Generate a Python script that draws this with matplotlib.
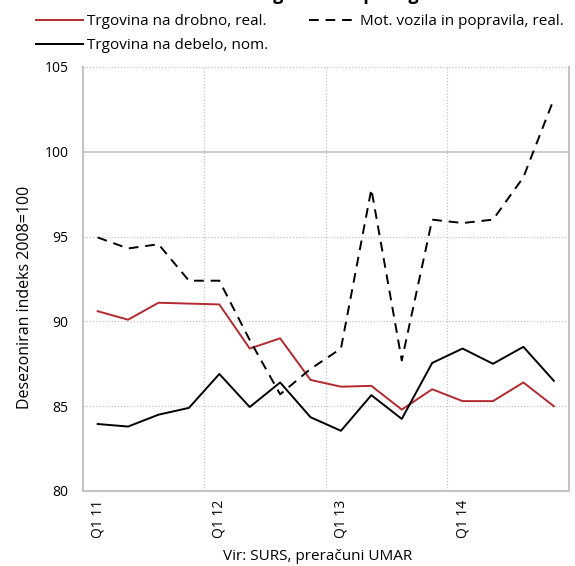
"""
Trgovina - desezonirani indeksi prihodka, 2011-2014
"""

import matplotlib.pyplot as plt

plt.rcParams['font.family'] = ['Open Sans', 'DejaVu Sans']

quarters = ["Q1 11", "Q2 11", "Q3 11", "Q4 11",
            "Q1 12", "Q2 12", "Q3 12", "Q4 12",
            "Q1 13", "Q2 13", "Q3 13", "Q4 13",
            "Q1 14", "Q2 14", "Q3 14", "Q4 14"]
drobno = [90.6, 90.1, 91.1, 91.05, 91.0, 88.4, 89.0, 86.55,
          86.15, 86.2, 84.8, 86.0, 85.3, 85.3, 86.4, 85.0]
debelo = [83.95, 83.8, 84.5, 84.9, 86.9, 84.95, 86.4, 84.35,
          83.55, 85.65, 84.25, 87.55, 88.4, 87.5, 88.5, 86.5]
vozila = [94.95, 94.3, 94.55, 92.4, 92.4, 88.9, 85.7, 87.2,
          88.4, 97.8, 87.7, 96.0, 95.8, 96.0, 98.5, 103.1]

red = '#b22a2e'
grey = '#c4c4c4'
W, H = 575, 566

fig = plt.figure(figsize=(W / 100, H / 100), dpi=100)
ax = fig.add_axes([82.5 / W, 1 - 491 / H, 486.5 / W, 424 / H])

x = list(range(len(quarters)))
l1, = ax.plot(x, drobno, color=red, lw=1.4, label="Trgovina na drobno, real.")
l2, = ax.plot(x, debelo, color='black', lw=1.4, label="Trgovina na debelo, nom.")
l3, = ax.plot(x, vozila, color='black', lw=1.4, ls=(0, (5, 3.5)),
              label="Mot. vozila in popravila, real.")

ax.set_xlim(-0.5, len(quarters) - 0.5)
ax.set_ylim(80, 105)
ax.set_yticks([80, 85, 90, 95, 100, 105])

# mreza
for v in [85, 90, 95, 105]:
    ax.axhline(v, color=grey, lw=0.9, ls=(0, (1, 1.5)), zorder=0)
ax.axhline(100, color=grey, lw=1.2, zorder=0)
for xv in [3.5, 7.5, 11.5]:
    ax.axvline(xv, color=grey, lw=0.9, ls=(0, (1, 1.5)), zorder=0)

q1 = [i for i, q in enumerate(quarters) if q.startswith("Q1")]
ax.set_xticks(q1)
ax.set_xticklabels([quarters[i] for i in q1], rotation=90, va='top', ha='center')

ax.tick_params(length=0, labelsize=10)
ax.tick_params(axis='x', pad=6)
ax.tick_params(axis='y', pad=10)

ax.spines['top'].set_visible(False)
for s in ['left', 'right', 'bottom']:
    ax.spines[s].set_color(grey)
    ax.spines[s].set_linewidth(1.5)

fig.text(25 / W, 1 - 297 / H, "Desezoniran indeks 2008=100", fontsize=11.5,
         rotation=90, ha='center', va='center')
fig.text(318 / W, 1 - 556 / H, "Vir: SURS, preračuni UMAR", fontsize=11,
         ha='center', va='center')

leg_kw = dict(loc='upper left', frameon=False, fontsize=11, handlelength=3.1,
              handletextpad=0.25, labelspacing=0.6, borderpad=0, borderaxespad=0)
fig.legend(handles=[l1, l2], bbox_to_anchor=(36 / W, 1 - 14 / H), **leg_kw)
fig.legend(handles=[l3], bbox_to_anchor=(309 / W, 1 - 14 / H), **leg_kw)

# naslov je v izvirniku odrezan na vrhu
fig.text(0.52, 1 - 0.5 / H, "Prihodek v trgovinskih panogah", ha='center',
         va='baseline', fontsize=13, fontweight='bold')

fig.savefig("out.png", dpi=100)
